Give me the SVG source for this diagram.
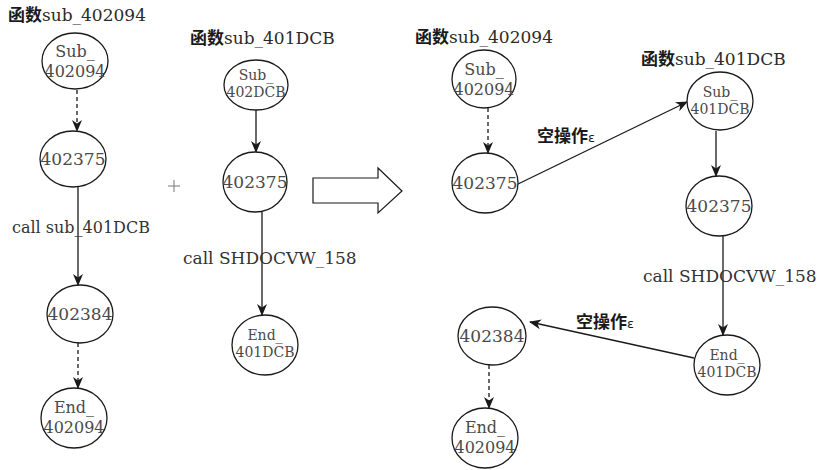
<svg xmlns="http://www.w3.org/2000/svg" width="818" height="470" viewBox="0 0 818 470">
  <defs>
    <marker id="head" viewBox="0 0 12 10" markerWidth="12" markerHeight="10" refX="11" refY="5" orient="auto" markerUnits="userSpaceOnUse">
      <path d="M0,0 L12,5 L0,10 L3.5,5 z" fill="#1a1a1a"/>
    </marker>
  </defs>
  <style>
    .serif { font-family: 'DejaVu Serif', 'Liberation Serif', serif; }
    .node ellipse { fill: #ffffff; stroke: #1a1a1a; stroke-width: 1.3; }
    .node text { fill: #4a4a4a; text-anchor: middle; }
    .big { font-size: 16px; }
    .one { font-size: 17px; }
    .small { font-size: 14px; }
    .title { font-size: 17px; fill: #2a2a2a; }
    .cjk { font-family: 'Noto Sans CJK SC', sans-serif; font-size: 17px; font-weight: bold; fill: #1a1a1a; }
    .label { font-size: 16px; fill: #333333; }
    .wide { font-size: 17px; }
    .eps { font-family: 'Noto Sans CJK SC', sans-serif; font-size: 17px; font-weight: bold; fill: #1a1a1a; }
    .eps .e { font-family: 'DejaVu Sans', sans-serif; font-size: 13px; font-weight: normal; }
    .edge { stroke: #1a1a1a; stroke-width: 1.3; fill: none; }
    .dash { stroke-dasharray: 4 3; }
    .plus { stroke: #777777; stroke-width: 1; }
  </style>

  <g class="serif">
  <!-- function titles -->
  <text class="title" x="8" y="21"><tspan class="cjk">函数</tspan>sub_402094</text>
  <text class="title" x="190" y="44"><tspan class="cjk">函数</tspan>sub_401DCB</text>
  <text class="title" x="415" y="43"><tspan class="cjk">函数</tspan>sub_402094</text>
  <text class="title" x="641" y="65"><tspan class="cjk">函数</tspan>sub_401DCB</text>

  <!-- connectors -->
  <g id="connectors">
    <!-- left graph: sub_402094 -->
    <line class="edge dash" x1="77" y1="90" x2="77" y2="131" marker-end="url(#head)"/>
    <line class="edge" x1="78" y1="187" x2="78" y2="285" marker-end="url(#head)"/>
    <line class="edge dash" x1="78" y1="343" x2="78" y2="388" marker-end="url(#head)"/>
    <!-- middle graph: sub_401DCB -->
    <line class="edge" x1="256" y1="110" x2="256" y2="152" marker-end="url(#head)"/>
    <line class="edge" x1="262" y1="212" x2="262" y2="315" marker-end="url(#head)"/>
    <!-- merged graph -->
    <line class="edge dash" x1="488" y1="108" x2="488" y2="153" marker-end="url(#head)"/>
    <line class="edge" x1="518" y1="184" x2="687" y2="102" marker-end="url(#head)"/>
    <line class="edge" x1="716" y1="131" x2="716" y2="176" marker-end="url(#head)"/>
    <line class="edge" x1="723" y1="236" x2="723" y2="335" marker-end="url(#head)"/>
    <line class="edge" x1="694" y1="358" x2="530" y2="322" marker-end="url(#head)"/>
    <line class="edge dash" x1="489" y1="365" x2="489" y2="408" marker-end="url(#head)"/>
  </g>

  <!-- edge labels -->
  <text class="label" x="12" y="233">call sub_401DCB</text>
  <text class="label wide" x="183" y="264">call SHDOCVW_158</text>
  <text class="label wide" x="643" y="282">call SHDOCVW_158</text>
  <text class="eps" x="537" y="142">空操作<tspan class="e">ε</tspan></text>
  <text class="eps" x="576" y="328">空操作<tspan class="e">ε</tspan></text>

  <!-- plus sign between the two source graphs -->
  <g id="plus">
    <line class="plus" x1="168" y1="186" x2="180" y2="186"/>
    <line class="plus" x1="174" y1="180" x2="174" y2="192"/>
  </g>

  <!-- hollow transformation arrow -->
  <g id="transform">
    <polygon points="313,178 378,178 378,168 402,191 378,213 378,203 313,203" fill="#ffffff" stroke="#1a1a1a" stroke-width="1.2"/>
  </g>

  <!-- left graph nodes -->
  <g id="l-sub402094" class="node">
    <ellipse cx="75" cy="61" rx="33" ry="28"/>
    <text class="big" x="75" y="57">Sub_</text>
    <text class="big" x="75" y="77">402094</text>
  </g>
  <g id="l-402375" class="node">
    <ellipse cx="73" cy="159" rx="33" ry="28"/>
    <text class="one" x="73" y="165">402375</text>
  </g>
  <g id="l-402384" class="node">
    <ellipse cx="80" cy="314" rx="33" ry="29"/>
    <text class="one" x="80" y="320">402384</text>
  </g>
  <g id="l-end402094" class="node">
    <ellipse cx="74" cy="418" rx="33" ry="30"/>
    <text class="big" x="74" y="413">End_</text>
    <text class="big" x="74" y="433">402094</text>
  </g>

  <!-- middle graph nodes -->
  <g id="m-sub402dcb" class="node">
    <ellipse cx="256" cy="85" rx="32" ry="25"/>
    <text class="small" x="256" y="80">Sub_</text>
    <text class="small" x="256" y="97">402DCB</text>
  </g>
  <g id="m-402375" class="node">
    <ellipse cx="255" cy="182" rx="32" ry="30"/>
    <text class="one" x="255" y="188">402375</text>
  </g>
  <g id="m-end401dcb" class="node">
    <ellipse cx="265" cy="345" rx="33" ry="30"/>
    <text class="small" x="265" y="340">End_</text>
    <text class="small" x="265" y="357">401DCB</text>
  </g>

  <!-- merged graph nodes -->
  <g id="r-sub402094" class="node">
    <ellipse cx="484" cy="79" rx="32" ry="29"/>
    <text class="big" x="484" y="75">Sub_</text>
    <text class="big" x="484" y="95">402094</text>
  </g>
  <g id="r-402375a" class="node">
    <ellipse cx="485" cy="183" rx="33" ry="30"/>
    <text class="one" x="485" y="189">402375</text>
  </g>
  <g id="r-sub401dcb" class="node">
    <ellipse cx="720" cy="101" rx="33" ry="29"/>
    <text class="small" x="720" y="97">Sub_</text>
    <text class="small" x="720" y="114">401DCB</text>
  </g>
  <g id="r-402375b" class="node">
    <ellipse cx="719" cy="206" rx="33" ry="30"/>
    <text class="one" x="719" y="212">402375</text>
  </g>
  <g id="r-end401dcb" class="node">
    <ellipse cx="727" cy="365" rx="33" ry="30"/>
    <text class="small" x="727" y="360">End_</text>
    <text class="small" x="727" y="377">401DCB</text>
  </g>
  <g id="r-402384" class="node">
    <ellipse cx="492" cy="336" rx="34" ry="29"/>
    <text class="one" x="492" y="342">402384</text>
  </g>
  <g id="r-end402094" class="node">
    <ellipse cx="485" cy="438" rx="33" ry="30"/>
    <text class="big" x="485" y="433">End_</text>
    <text class="big" x="485" y="453">402094</text>
  </g>
  </g>
</svg>
